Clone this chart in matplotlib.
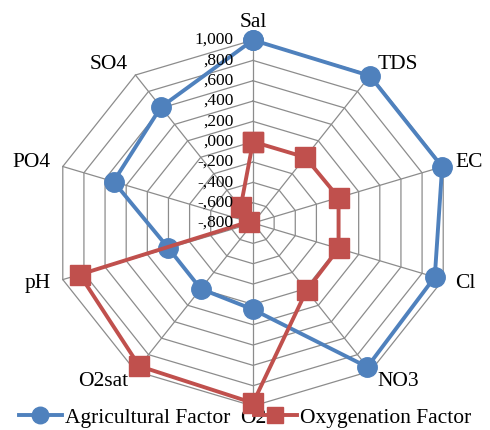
import numpy as np
import matplotlib as mpl
mpl.use('Agg')
import matplotlib.pyplot as plt

plt.rcParams['font.family'] = ['Liberation Serif', 'DejaVu Serif']

categories = ['Sal', 'TDS', 'EC', 'Cl', 'NO3', 'O2', 'O2sat', 'pH', 'PO4', 'SO4']
agricultural = [1.00, 0.99, 0.99, 0.92, 0.95, 0.05, 0.00, 0.00, 0.52, 0.61]
oxygenation = [0.00, 0.00, 0.01, 0.01, 0.02, 0.97, 0.94, 0.84, -0.76, -0.61]
tick_values = [1.0, 0.8, 0.6, 0.4, 0.2, 0.0, -0.2, -0.4, -0.6, -0.8]
tick_labels = ['1,000', ',800', ',600', ',400', ',200', ',000',
               '-,200', '-,400', '-,600', '-,800']

vmin, vmax = -0.8, 1.0
n = len(categories)
angles = np.pi / 2 - np.arange(n) * 2 * np.pi / n


def to_xy(vals):
    r = (np.asarray(vals) - vmin) / (vmax - vmin)
    x = r * np.cos(angles)
    y = r * np.sin(angles)
    return np.append(x, x[0]), np.append(y, y[0])


fig = plt.figure(figsize=(4.9, 4.3), dpi=100)
ax = fig.add_axes([0, 0, 1, 1])
ax.set_xlim(-1.265, 1.185)
ax.set_ylim(-1.131, 1.219)
ax.axis('off')

# grid rings and spokes
for v in tick_values:
    gx, gy = to_xy([v] * n)
    ax.plot(gx, gy, color='#8c8c8c', lw=0.9, zorder=1)
ox, oy = to_xy([vmax] * n)
for i in range(n):
    ax.plot([0, ox[i]], [0, oy[i]], color='#8c8c8c', lw=0.9, zorder=1)

# tick labels along the Sal axis
for v, lab in zip(tick_values, tick_labels):
    r = (v - vmin) / (vmax - vmin)
    ax.annotate(lab, (0, r), xytext=(-14, 0), textcoords='offset points',
                ha='right', va='center', fontsize=12.5, zorder=5)

# category labels
for i, cat in enumerate(categories):
    c, s = np.cos(angles[i]), np.sin(angles[i])
    ha = 'left' if c > 0.1 else ('right' if c < -0.1 else 'center')
    va = 'center'
    off = 9
    if s > 0.99:
        va = 'bottom'
        off = 6
    elif s < -0.99:
        va = 'top'
        off = 2
    ax.annotate(cat, (ox[i], oy[i]), xytext=(off * c, off * s),
                textcoords='offset points', ha=ha, va=va, fontsize=15.5, zorder=2)

ax_, ay_ = to_xy(agricultural)
ax.plot(ax_, ay_, color='#4F81BD', lw=2.8, marker='o', markersize=14,
        label='Agricultural Factor', zorder=3)
bx_, by_ = to_xy(oxygenation)
ax.plot(bx_, by_, color='#C0504D', lw=2.8, marker='s', markersize=14,
        label='Oxygenation Factor', zorder=4)

fig.legend(loc='lower center', ncol=2, frameon=False, fontsize=15.5,
           bbox_to_anchor=(0.5, 0.0), handlelength=2.0, columnspacing=1.1,
           handletextpad=0.15, markerscale=0.85, borderaxespad=0.0,
           borderpad=0.1)

fig.savefig('out.png', dpi=100)
